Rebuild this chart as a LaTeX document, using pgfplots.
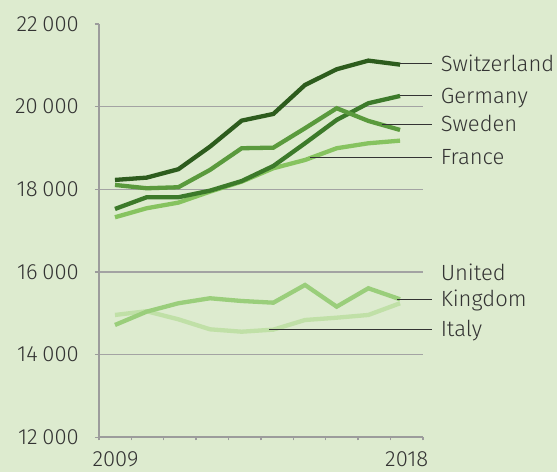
\documentclass[border=0pt]{standalone}
\usepackage{fontspec}
\setmainfont{Fira Sans Light}
\usepackage{pgfplots}
\pgfplotsset{compat=1.18}
\definecolor{bg}{HTML}{DDEBCF}
\definecolor{axisgray}{HTML}{9C9C9C}
\definecolor{gridgray}{HTML}{A3A3A3}
\definecolor{txt}{HTML}{333333}
\definecolor{cSwi}{HTML}{2D5C1D}
\definecolor{cGer}{HTML}{3C7A2A}
\definecolor{cSwe}{HTML}{5A9A3D}
\definecolor{cFra}{HTML}{86C35F}
\definecolor{cUK}{HTML}{9ACE7B}
\definecolor{cIta}{HTML}{C0E0A7}
\begin{document}
\begin{tikzpicture}
\path[use as bounding box, fill=bg] (-99pt,-34.7pt) rectangle (458pt,437.3pt);
\begin{axis}[
  at={(0,0)}, anchor=south west,
  scale only axis, width=324pt, height=413.3pt,
  xmin=-0.505, xmax=9.725, ymin=12000, ymax=22000,
  scaled y ticks=false,
  axis lines=left,
  axis line style={-, draw=axisgray, line width=1.8pt},
  tick align=outside,
  tick style={draw=axisgray, line width=1.4pt},
  major tick length=4pt,
  minor tick length=3pt,
  xtick={0.016,9.21},
  xticklabels={2009,2018},
  xtick style={draw=none},
  minor xtick={-0.505,0.518,1.541,2.564,3.587,4.610,5.633,6.656,7.679,8.702,9.725},
  minor x tick style={draw=axisgray, line width=1.4pt},
  ytick={14000,16000,18000,20000},
  yticklabels={14\hspace{0.22em}000,16\hspace{0.22em}000,18\hspace{0.22em}000,20\hspace{0.22em}000},
  extra y ticks={12000,22000},
  extra y tick labels={12\hspace{0.22em}000,22\hspace{0.22em}000},
  extra y tick style={grid=none},
  ymajorgrids,
  major grid style={draw=gridgray, line width=1.5pt},
  ticklabel style={font=\fontsize{22}{26}\selectfont, text=txt},
  yticklabel style={inner sep=0pt, anchor=east, xshift=-16pt},
  xticklabel style={inner sep=0pt, anchor=north, yshift=-10pt},
  clip=false,
  every axis plot/.append style={mark=none, line width=4.3pt},
]
% Italy
\addplot[draw=cIta] coordinates {(0,14960) (1,15050) (2,14855) (3,14613) (4,14555) (5,14605) (6,14838) (7,14894) (8,14960) (9,15243)};
% United Kingdom
\addplot[draw=cUK] coordinates {(0,14718) (1,15040) (2,15243) (3,15364) (4,15298) (5,15257) (6,15686) (7,15161) (8,15606) (9,15340)};
% France
\addplot[draw=cFra] coordinates {(0,17324) (1,17542) (2,17678) (3,17944) (4,18185) (5,18510) (6,18710) (7,18994) (8,19114) (9,19178)};
% Germany
\addplot[draw=cGer] coordinates {(0,17525) (1,17808) (2,17808) (3,17968) (4,18200) (5,18565) (6,19114) (7,19679) (8,20083) (9,20259)};
% Sweden
\addplot[draw=cSwe] coordinates {(0,18106) (1,18026) (2,18050) (3,18470) (4,18994) (5,19008) (6,19478) (7,19962) (8,19655) (9,19437)};
% Switzerland
\addplot[draw=cSwi] coordinates {(0,18227) (1,18283) (2,18486) (3,19033) (4,19662) (5,19824) (6,20525) (7,20905) (8,21114) (9,21017)};
% leader lines and labels
\tikzset{leader/.style={draw=txt, line width=1.1pt},
         lab/.style={anchor=base west, inner sep=0pt, text=txt, font=\fontsize{22}{26}\selectfont, yshift=-7.5pt}}
\draw[leader] (9,21040) -- (10.01,21040);
\node[lab] at (10.28,21040) {Switzerland};
\draw[leader] (9,20265) -- (10.01,20265);
\node[lab] at (10.28,20265) {Germany};
\draw[leader] (8.42,19575) -- (10.01,19575);
\node[lab] at (10.28,19575) {Sweden};
\draw[leader] (6.16,18776) -- (10.01,18776);
\node[lab] at (10.28,18776) {France};
\draw[leader] (8.9,15340) -- (10.01,15340);
\node[lab] at (10.28,15976) {United};
\node[lab] at (10.28,15340) {Kingdom};
\draw[leader] (4.87,14614) -- (10.01,14614);
\node[lab] at (10.28,14614) {Italy};
\end{axis}
\end{tikzpicture}
\end{document}
